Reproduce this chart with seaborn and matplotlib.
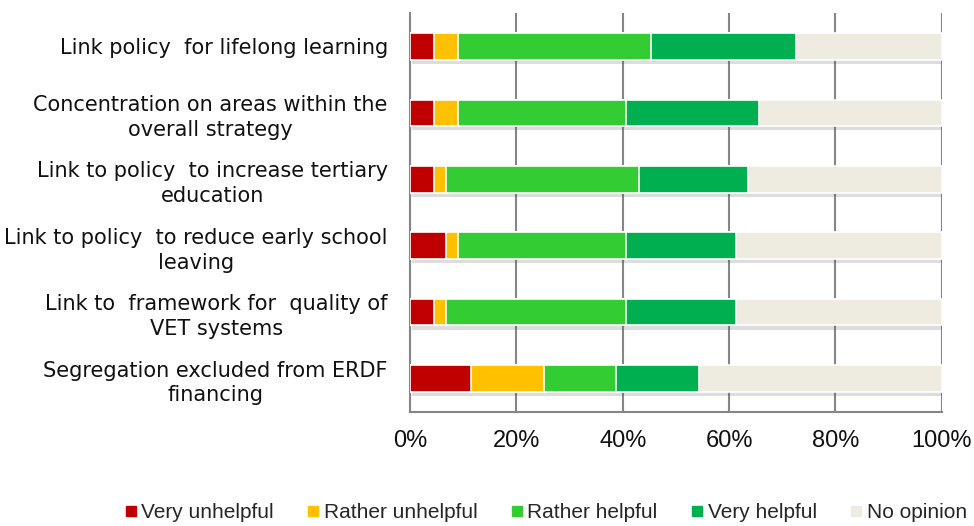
import matplotlib
matplotlib.use("Agg")
import matplotlib.pyplot as plt
import matplotlib.patheffects as pe
from matplotlib.lines import Line2D
import numpy as np
import pandas as pd
import seaborn as sns

categories = [
    "Link policy  for lifelong learning",
    "Concentration on areas within the\noverall strategy",
    "Link to policy  to increase tertiary\neducation",
    "Link to policy  to reduce early school\nleaving",
    "Link to  framework for  quality of\nVET systems",
    "Segregation excluded from ERDF\nfinancing",
]
series = ["Very unhelpful", "Rather unhelpful", "Rather helpful", "Very helpful", "No opinion"]
very_unhelpful = [4.5, 4.5, 4.5, 6.7, 4.5, 11.4]
rather_unhelpful = [4.6, 4.6, 2.2, 2.4, 2.2, 13.7]
rather_helpful = [36.3, 31.6, 36.3, 31.6, 34.0, 13.6]
very_helpful = [27.2, 25.0, 20.5, 20.6, 20.6, 15.6]
no_opinion = [27.4, 34.3, 36.5, 38.7, 38.7, 45.7]
colors = ["#C00000", "#FFC000", "#33CC33", "#00B050", "#EEECE1"]
tick_vals = [0, 20, 40, 60, 80, 100]
tick_labels = ["0%", "20%", "40%", "60%", "80%", "100%"]

sns.set_theme(style="white")
plt.rcParams["font.family"] = ["Liberation Sans", "DejaVu Sans"]

vals = np.array([very_unhelpful, rather_unhelpful, rather_helpful, very_helpful, no_opinion])
cum = np.cumsum(vals, axis=0)
cum = cum / cum[-1:] * 100

fig = plt.figure(figsize=(9.74, 5.26), dpi=100)
ax = fig.add_axes([0.421, 0.217, 0.546, 0.758])

for i in range(len(series) - 1, -1, -1):
    df = pd.DataFrame({"cat": categories, "val": cum[i]})
    sns.barplot(data=df, x="val", y="cat", orient="h", color=colors[i],
                width=0.4, edgecolor="white", linewidth=1.2, saturation=1,
                ax=ax, zorder=3)

# soft shadow on the full bars
for p in ax.patches[:len(categories)]:
    p.set_path_effects([pe.SimplePatchShadow(offset=(1.5, -3), alpha=0.18, shadow_rgbFace="#444444"), pe.Normal()])

ax.set_xlim(0, 100)
ax.set_ylim(len(categories) - 0.5, -0.5)
ax.set_xticks(tick_vals)
ax.set_xticklabels(tick_labels, fontsize=17, color="#111111")
ax.set_xlabel("")
ax.set_ylabel("")
ax.set_yticks(range(len(categories)))
ax.set_yticklabels(categories, fontsize=15, color="#111111",
                   family=["DejaVu Sans"], linespacing=1.3)
for lbl in ax.get_yticklabels():
    lbl.set_horizontalalignment("right")
    lbl.set_multialignment("center")
ax.tick_params(axis="y", length=0, pad=16)
ax.set_yticks(np.arange(-0.5, len(categories)), minor=True)
ax.tick_params(axis="y", which="minor", length=5, color="#868686", width=1.5, direction="out")
ax.tick_params(axis="x", length=5, color="#868686", width=1.5, direction="out", pad=8)

ax.grid(axis="x", color="#868686", linewidth=1.5, zorder=0)
ax.set_axisbelow(True)
for s in ["top", "right"]:
    ax.spines[s].set_visible(False)
for s in ["left", "bottom"]:
    ax.spines[s].set_color("#868686")
    ax.spines[s].set_linewidth(1.5)

handles = [Line2D([0], [0], marker="s", linestyle="", markersize=6.5,
                  markerfacecolor=c, markeredgecolor=c) for c in colors]
fig.legend(handles, series, loc="center", bbox_to_anchor=(0.558, 0.025), ncol=5,
           frameon=False, handletextpad=0.0, columnspacing=1.4, handlelength=1.0,
           prop={"family": ["Liberation Sans", "DejaVu Sans"], "size": 15})

fig.savefig("out.png", dpi=100)
